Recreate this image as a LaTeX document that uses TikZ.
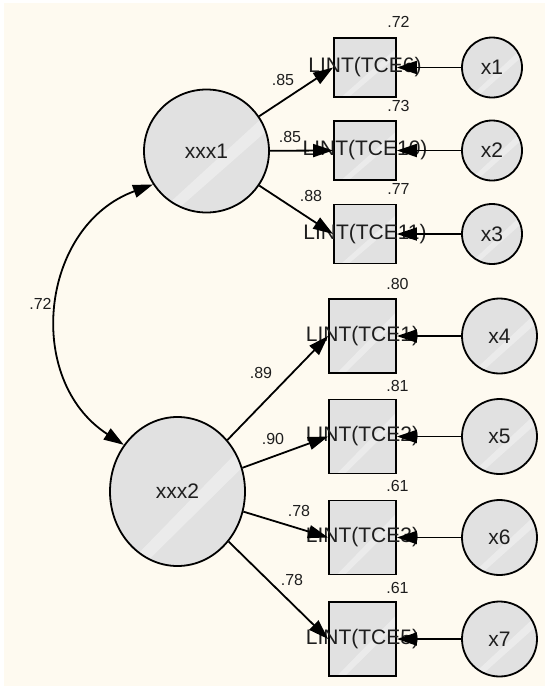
\documentclass[tikz,border=0pt]{standalone}
\usepackage{fontspec}
\setmainfont{Liberation Sans}
\usetikzlibrary{arrows.meta,shapes.geometric,calc}
\definecolor{bgc}{HTML}{FEFAF0}
\definecolor{shapefill}{HTML}{E1E1E1}
\definecolor{stripec}{HTML}{EBEBEB}
\definecolor{txt}{HTML}{1E1E1E}
\tikzset{
  x=1pt, y=1pt,
  shiny/.style={fill=shapefill, draw=black, line width=1.8pt,
    path picture={
      \fill[stripec]
        ($(path picture bounding box.south west)!0.12!(path picture bounding box.south east)$) --
        ($(path picture bounding box.south west)!0.24!(path picture bounding box.south east)$) --
        ($(path picture bounding box.north east)!0.32!(path picture bounding box.south east)$) --
        ($(path picture bounding box.north east)!0.18!(path picture bounding box.south east)$) -- cycle;}},
  bigfont/.style={font=\fontsize{21}{25}\selectfont, text=txt},
  latent/.style={shiny, ellipse, inner sep=0pt, bigfont},
  obsbox/.style={shiny, rectangle, inner sep=0pt, bigfont},
  errc/.style={shiny, circle, inner sep=0pt, bigfont},
  coef/.style={font=\fontsize{16}{19}\selectfont, text=txt, inner sep=0pt},
  reg/.style={line width=1.8pt, -{Triangle[length=20pt,width=13pt]}},
  cov/.style={line width=1.8pt, {Triangle[length=20pt,width=13pt]}-{Triangle[length=20pt,width=13pt]}}
}
\newcommand{\boxtext}[1]{\makebox[0pt][c]{#1}}
\begin{document}
\begin{tikzpicture}
\useasboundingbox (0,0) rectangle (545,-686);
\fill[white] (0,0) rectangle (545,-686);
\fill[bgc] (4,-3) rectangle (545,-686);

% latent variables
\node[latent, minimum width=125pt, minimum height=123pt] (xxx1) at (206.5,-151) {xxx1};
\node[latent, minimum width=135pt, minimum height=149pt] (xxx2) at (177.5,-491.5) {xxx2};

% observed boxes
\node[obsbox, minimum width=62pt, minimum height=59pt] (b1) at (365,-67.5) {\boxtext{LINT(TCE6)}};
\node[obsbox, minimum width=62pt, minimum height=59pt] (b2) at (365,-150.5) {\boxtext{LINT(TCE10)}};
\node[obsbox, minimum width=62pt, minimum height=59pt] (b3) at (365,-234) {\boxtext{LINT(TCE11)}};
\node[obsbox, minimum width=67pt, minimum height=74pt] (b4) at (362.5,-336) {\boxtext{LINT(TCE1)}};
\node[obsbox, minimum width=67pt, minimum height=74pt] (b5) at (362.5,-436.5) {\boxtext{LINT(TCE2)}};
\node[obsbox, minimum width=67pt, minimum height=74pt] (b6) at (362.5,-537.5) {\boxtext{LINT(TCE3)}};
\node[obsbox, minimum width=67pt, minimum height=74pt] (b7) at (362.5,-639) {\boxtext{LINT(TCE5)}};

% error circles
\node[errc, minimum size=60pt] (x1) at (492,-67.5) {x1};
\node[errc, minimum size=60pt] (x2) at (492,-150.5) {x2};
\node[errc, minimum size=60pt] (x3) at (492,-234) {x3};
\node[errc, minimum size=75pt] (x4) at (499.5,-336) {x4};
\node[errc, minimum size=75pt] (x5) at (499.5,-436.5) {x5};
\node[errc, minimum size=75pt] (x6) at (499.5,-537.5) {x6};
\node[errc, minimum size=75pt] (x7) at (499.5,-639) {x7};

% loadings
\draw[reg] (xxx1) -- (b1.west);
\draw[reg] (xxx1) -- (b2.west);
\draw[reg] (xxx1) -- (b3.west);
\draw[reg] (xxx2) -- (b4.west);
\draw[reg] (xxx2) -- (b5.west);
\draw[reg] (xxx2) -- (b6.west);
\draw[reg] (xxx2) -- (b7.west);

% errors
\draw[reg] (x1) -- (b1.east);
\draw[reg] (x2) -- (b2.east);
\draw[reg] (x3) -- (b3.east);
\draw[reg] (x4) -- (b4.east);
\draw[reg] (x5) -- (b5.east);
\draw[reg] (x6) -- (b6.east);
\draw[reg] (x7) -- (b7.east);

% covariance
\draw[cov] (xxx1.212) to[out=200, in=147, looseness=1.17] (xxx2.139.5);

% coefficients
\node[coef] (c0) at (40.5,-304) {.72};
\node[coef] (c1) at (283,-80) {.85};
\node[coef] (c2) at (290,-137) {.85};
\node[coef] (c3) at (311,-196) {.88};
\node[coef] (c4) at (261,-373) {.89};
\node[coef] (c5) at (273,-439) {.90};
\node[coef] (c6) at (299,-511) {.78};
\node[coef] (c7) at (292,-580) {.78};

% squared multiple correlations
\node[coef] (r1) at (398.5,-22) {.72};
\node[coef] (r2) at (398.5,-106) {.73};
\node[coef] (r3) at (398.5,-189) {.77};
\node[coef] (r4) at (397.5,-284) {.80};
\node[coef] (r5) at (397.5,-385.5) {.81};
\node[coef] (r6) at (397.5,-486) {.61};
\node[coef] (r7) at (397.5,-587.5) {.61};
\end{tikzpicture}
\end{document}
